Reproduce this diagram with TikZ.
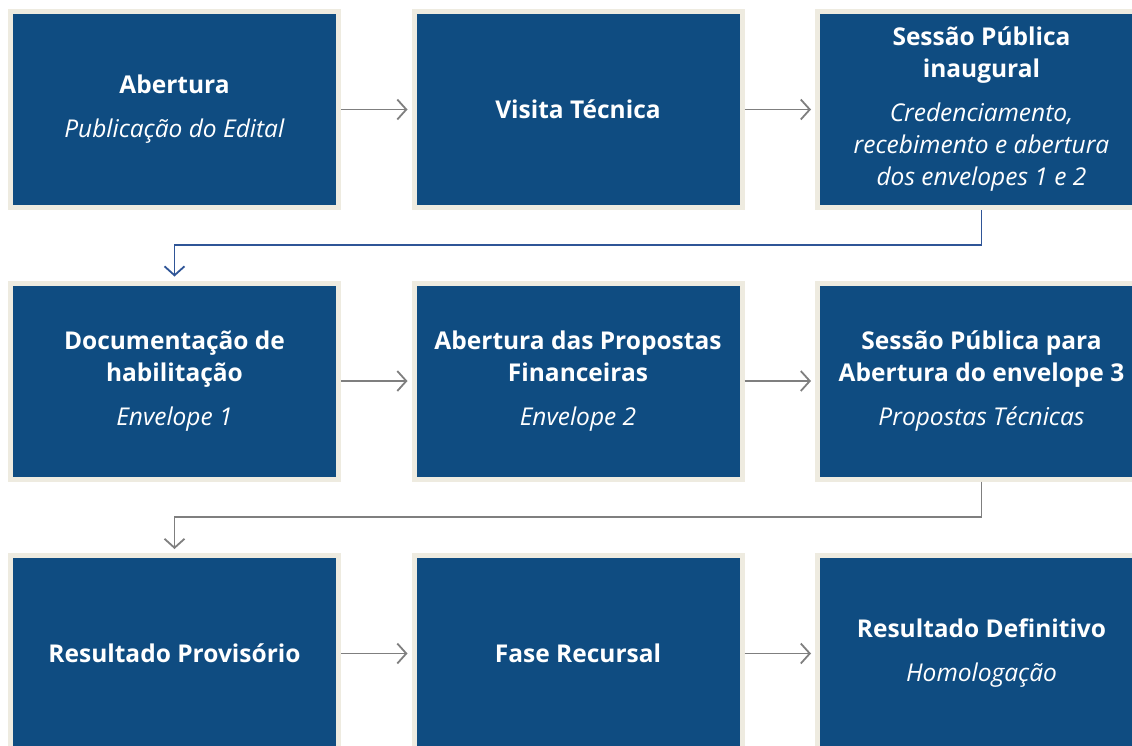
\documentclass[tikz,border=0pt]{standalone}
\usepackage{fontspec}
\setmainfont{Open Sans}
\usetikzlibrary{arrows.meta}

\definecolor{azul}{HTML}{0F4C81}
\definecolor{bege}{HTML}{EEEBE0}
\definecolor{cinza}{HTML}{7F7F7F}
\definecolor{azulseta}{HTML}{2F5597}

\tikzset{
  etapa/.style={draw=bege, line width=5pt, fill=azul, text=white,
    minimum width=328pt, minimum height=196pt, align=center,
    font=\fontsize{24.5}{32}\selectfont},
  seta/.style={draw=cinza, line width=1.8pt,
    -{Straight Barb[length=9pt,width=20pt]}, shorten >=4pt},
}

\begin{document}
\begin{tikzpicture}[x=1pt,y=-1pt]
		\useasboundingbox (0,0) rectangle (1132,745);
		
		% linha 1
		\node[etapa] (A) at (174.5,109.5) {\textbf{Abertura}\\[12pt]\textit{Publicação do Edital}};
		\node[etapa] (B) at (578,109.5) {\textbf{Visita Técnica}};
		\node[etapa] (C) at (981.5,109.5) {\textbf{Sessão Pública}\\\textbf{inaugural}\\[12pt]\textit{Credenciamento,}\\\textit{recebimento e abertura}\\\textit{dos envelopes 1 e 2}};
		
		% linha 2
		\node[etapa] (D) at (174.5,381) {\textbf{Documentação de}\\\textbf{habilitação}\\[12pt]\textit{Envelope 1}};
		\node[etapa] (E) at (578,381) {\textbf{Abertura das Propostas}\\\textbf{Financeiras}\\[12pt]\textit{Envelope 2}};
		\node[etapa] (F) at (981.5,381) {\textbf{Sessão Pública para}\\\textbf{Abertura do envelope 3}\\[12pt]\textit{Propostas Técnicas}};
		
		% linha 3
		\node[etapa] (G) at (174.5,653.5) {\textbf{Resultado Provisório}};
		\node[etapa] (H) at (578,653.5) {\textbf{Fase Recursal}};
		\node[etapa] (I) at (981.5,653.5) {\textbf{Resultado Definitivo}\\[12pt]\textit{Homologação}};
		
		\coordinate (K1) at (981.5,245);
		\coordinate (K2) at (981.5,517);
		
		\path[seta] (A) edge (B);
		\path[seta] (B) edge (C);
		\path[seta] (D) edge (E);
		\path[seta] (E) edge (F);
		\path[seta] (G) edge (H);
		\path[seta] (H) edge (I);
		\draw[seta, draw=azulseta] (C.south) -- (K1) -| (D.north);
		\draw[seta] (F.south) -- (K2) -| (G.north);
		
	\end{tikzpicture}
\end{document}
